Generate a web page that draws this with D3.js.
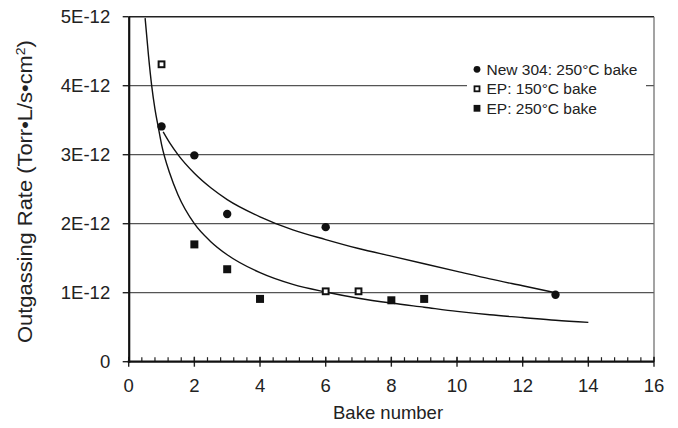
<!DOCTYPE html>
<html>
<head>
<meta charset="utf-8">
<script src="https://cdn.jsdelivr.net/npm/d3@7"></script>
<style>
  body { margin: 0; background: #fff; }
  svg { font-family: "Liberation Sans", Arial, sans-serif; }
</style>
</head>
<body>
<svg id="chart" width="678" height="428"></svg>
<script>
// points (rate in Torr·L/s·cm²)
const new304Bake = [1, 2, 3, 6, 13];
const new304Rate = [3.41e-12, 2.99e-12, 2.14e-12, 1.95e-12, 0.97e-12];

const ep150Bake = [1, 6, 7];
const ep150Rate = [4.31e-12, 1.02e-12, 1.02e-12];

const ep250Bake = [2, 3, 4, 8, 9];
const ep250Rate = [1.70e-12, 1.34e-12, 0.91e-12, 0.89e-12, 0.91e-12];

// the two fitted curves
const fitSteepBake = [0.5, 0.6, 0.7, 0.8, 0.9, 1, 1.25, 1.5, 2, 2.5, 3, 4, 5, 6, 7, 8, 9, 10, 11, 12, 13, 14];
const fitSteepRate = [4.98e-12, 4.45e-12, 4.0e-12, 3.66e-12, 3.4e-12, 3.15e-12, 2.73e-12, 2.42e-12, 2.0e-12, 1.74e-12,
  1.55e-12, 1.29e-12, 1.12e-12, 1.01e-12, 0.92e-12, 0.85e-12, 0.79e-12, 0.73e-12, 0.68e-12, 0.64e-12, 0.60e-12, 0.57e-12];

const fit304Bake = [1.05, 1.25, 1.5, 2, 2.5, 3, 4, 5, 6, 7, 8, 9, 10, 11, 12, 13];
const fit304Rate = [3.33e-12, 3.17e-12, 3.0e-12, 2.73e-12, 2.52e-12, 2.35e-12, 2.1e-12, 1.91e-12, 1.77e-12,
  1.64e-12, 1.53e-12, 1.42e-12, 1.31e-12, 1.2e-12, 1.1e-12, 1.0e-12];

const xTicks = [0, 2, 4, 6, 8, 10, 12, 14, 16];
const yTicks = [0, 1e-12, 2e-12, 3e-12, 4e-12, 5e-12];
const yTickLabels = ["0", "1E-12", "2E-12", "3E-12", "4E-12", "5E-12"];

const legendLabels = ["New 304: 250°C bake", "EP: 150°C bake", "EP: 250°C bake"];

const svg = d3.select("#chart");

const x = d3.scaleLinear().domain([0, 16]).range([128.7, 654]);
const y = d3.scaleLinear().domain([0, 5e-12]).range([361.7, 16.7]);

// gridlines + frame
svg.append("g")
  .selectAll("line")
  .data(yTicks.slice(1, 5))
  .join("line")
  .attr("x1", x(0)).attr("x2", x(16))
  .attr("y1", d => y(d)).attr("y2", d => y(d))
  .attr("stroke", "#555").attr("stroke-width", 1.2);

svg.append("line")
  .attr("x1", x(0)).attr("x2", x(16))
  .attr("y1", y(5e-12)).attr("y2", y(5e-12))
  .attr("stroke", "#222").attr("stroke-width", 1.5);

svg.append("line")
  .attr("x1", x(16)).attr("x2", x(16))
  .attr("y1", y(5e-12)).attr("y2", y(0))
  .attr("stroke", "#666").attr("stroke-width", 1.2);

// x axis: major ticks cross the line, minor ticks point inwards
const xAxis = svg.append("g").attr("transform", `translate(0,${y(0)})`);
xAxis.selectAll("line.minor")
  .data(d3.range(0, 16.01, 0.4))
  .join("line")
  .attr("class", "minor")
  .attr("x1", d => x(d)).attr("x2", d => x(d))
  .attr("y1", 0).attr("y2", -4.5)
  .attr("stroke", "#222").attr("stroke-width", 1.2);
xAxis.selectAll("line.major")
  .data(xTicks)
  .join("line")
  .attr("class", "major")
  .attr("x1", d => x(d)).attr("x2", d => x(d))
  .attr("y1", -5).attr("y2", 5)
  .attr("stroke", "#222").attr("stroke-width", 1.4);
xAxis.append("line")
  .attr("x1", x(0) - 1).attr("x2", x(16))
  .attr("stroke", "#111").attr("stroke-width", 2.2);
xAxis.selectAll("text")
  .data(xTicks)
  .join("text")
  .attr("x", d => x(d))
  .attr("y", 30.5)
  .attr("text-anchor", "middle")
  .attr("font-size", 18.5)
  .attr("fill", "#222")
  .text(d => d);

// y axis
const yAxis = svg.append("g");
yAxis.selectAll("line")
  .data(yTicks)
  .join("line")
  .attr("x1", x(0) - 6).attr("x2", x(0))
  .attr("y1", d => y(d)).attr("y2", d => y(d))
  .attr("stroke", "#222").attr("stroke-width", 1.4);
yAxis.append("line")
  .attr("x1", x(0) + 0.5).attr("x2", x(0) + 0.5)
  .attr("y1", y(5e-12)).attr("y2", y(0) + 1)
  .attr("stroke", "#111").attr("stroke-width", 2.2);
yAxis.selectAll("text")
  .data(yTicks)
  .join("text")
  .attr("x", x(0) - 18.5)
  .attr("y", d => y(d))
  .attr("dy", "0.36em")
  .attr("text-anchor", "end")
  .attr("font-size", 18.5)
  .attr("fill", "#222")
  .text((d, i) => yTickLabels[i]);

// axis titles
svg.append("text")
  .attr("x", x(7.9))
  .attr("y", 419)
  .attr("text-anchor", "middle")
  .attr("font-size", 18.5)
  .attr("fill", "#222")
  .text("Bake number");

const yTitle = svg.append("text")
  .attr("text-anchor", "middle")
  .attr("font-size", 19.5)
  .attr("fill", "#222");
yTitle.append("tspan").text("Outgassing Rate (Torr•L/s•cm");
yTitle.append("tspan").attr("font-size", 12.5).attr("dy", -7.5).text("2");
yTitle.append("tspan").attr("dy", 7.5).text(")");
// the original title runs longer than the font alone gives, stretch it to ~303px
const titleLen = yTitle.node().getComputedTextLength();
yTitle.attr("transform", `translate(32,191.5) rotate(-90) scale(${303 / titleLen},1)`);

// fitted curves
const line = d3.line()
  .x(d => x(d[0]))
  .y(d => y(d[1]))
  .curve(d3.curveMonotoneX);

svg.append("path")
  .datum(d3.zip(fitSteepBake, fitSteepRate))
  .attr("d", line)
  .attr("fill", "none")
  .attr("stroke", "#111")
  .attr("stroke-width", 1.4);

svg.append("path")
  .datum(d3.zip(fit304Bake, fit304Rate))
  .attr("d", line)
  .attr("fill", "none")
  .attr("stroke", "#111")
  .attr("stroke-width", 1.4);

// markers
svg.append("g")
  .selectAll("circle")
  .data(d3.zip(new304Bake, new304Rate))
  .join("circle")
  .attr("cx", d => x(d[0]))
  .attr("cy", d => y(d[1]))
  .attr("r", 4.2)
  .attr("fill", "#111");

svg.append("g")
  .selectAll("rect")
  .data(d3.zip(ep150Bake, ep150Rate))
  .join("rect")
  .attr("x", d => x(d[0]) - 2.9)
  .attr("y", d => y(d[1]) - 2.9)
  .attr("width", 5.8).attr("height", 5.8)
  .attr("fill", "#fff")
  .attr("stroke", "#111")
  .attr("stroke-width", 2);

svg.append("g")
  .selectAll("rect")
  .data(d3.zip(ep250Bake, ep250Rate))
  .join("rect")
  .attr("x", d => x(d[0]) - 4)
  .attr("y", d => y(d[1]) - 4)
  .attr("width", 8).attr("height", 8)
  .attr("fill", "#111");

// legend
const legend = svg.append("g");
legend.append("rect")
  .attr("x", 467).attr("y", 58)
  .attr("width", 179).attr("height", 60)
  .attr("fill", "#fff");

const rows = legend.selectAll("g")
  .data(legendLabels)
  .join("g")
  .attr("transform", (d, i) => `translate(477,${69.3 + i * 19.5})`);

rows.filter((d, i) => i === 0).append("circle")
  .attr("r", 3.4).attr("fill", "#111");
rows.filter((d, i) => i === 1).append("rect")
  .attr("x", -2.5).attr("y", -2.5).attr("width", 5).attr("height", 5)
  .attr("fill", "#fff").attr("stroke", "#111").attr("stroke-width", 1.8);
rows.filter((d, i) => i === 2).append("rect")
  .attr("x", -3.4).attr("y", -3.4).attr("width", 6.8).attr("height", 6.8)
  .attr("fill", "#111");

rows.append("text")
  .attr("x", 9.5)
  .attr("dy", "0.36em")
  .attr("font-size", 15.5)
  .attr("fill", "#222")
  .text(d => d);
</script>
</body>
</html>
